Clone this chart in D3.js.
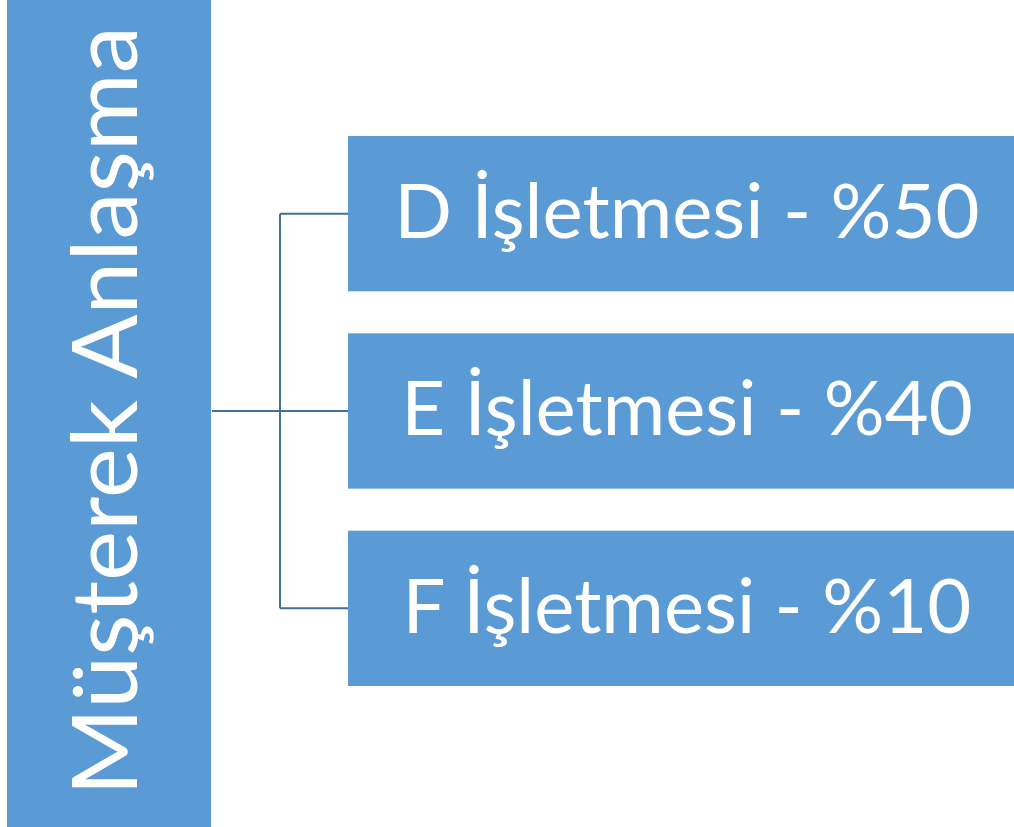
<!DOCTYPE html>
<html><head><meta charset="utf-8">
<script src="https://cdn.jsdelivr.net/npm/d3@7"></script>
<style>html,body{margin:0;padding:0;background:#fff;overflow:hidden}</style>
</head><body>
<script>
const rootLabel = "Müşterek Anlaşma";
const companies = ["D", "E", "F"];
const shares = [50, 40, 10];
const childLabels = companies.map((c, i) => `${c} İşletmesi - %${shares[i]}`);

const W = 1014, H = 827;
const fill = "#5B9BD5", lineColor = "#41719C";
const svg = d3.select("body").append("svg").attr("width", W).attr("height", H);

const y = d3.scaleBand().domain(childLabels).range([136, 686]).paddingInner(0.213);

// root box
svg.append("rect").attr("x", 7).attr("y", -2).attr("width", 204).attr("height", H + 4).attr("fill", fill);
svg.append("text")
  .attr("transform", "translate(137,411) rotate(-90)")
  .attr("text-anchor", "middle")
  .attr("font-family", "Lato, sans-serif")
  .attr("font-size", 92)
  .attr("fill", "#fff")
  .attr("textLength", 770).attr("lengthAdjust", "spacingAndGlyphs")
  .text(rootLabel);

// connectors
const midY = y(childLabels[1]) + y.bandwidth() / 2;
const g = svg.append("g").attr("stroke", lineColor).attr("stroke-width", 2).attr("fill", "none");
g.append("line").attr("x1", 212).attr("x2", 280).attr("y1", midY).attr("y2", midY);
g.append("line").attr("x1", 280).attr("x2", 280)
  .attr("y1", y(childLabels[0]) + y.bandwidth() / 2)
  .attr("y2", y(childLabels[2]) + y.bandwidth() / 2);
g.selectAll("line.b").data(childLabels).enter().append("line")
  .attr("x1", 280).attr("x2", 348)
  .attr("y1", d => y(d) + y.bandwidth() / 2).attr("y2", d => y(d) + y.bandwidth() / 2);

// child boxes
svg.selectAll("rect.c").data(childLabels).enter().append("rect")
  .attr("x", 348).attr("y", d => y(d)).attr("width", 700).attr("height", y.bandwidth())
  .attr("fill", fill);
svg.selectAll("text.c").data(childLabels).enter().append("text")
  .attr("x", 687).attr("y", d => y(d) + 102)
  .attr("text-anchor", "middle")
  .attr("font-family", "Lato, sans-serif")
  .attr("font-size", 76)
  .attr("fill", "#fff")
  .text(d => d);
</script>
</body></html>
